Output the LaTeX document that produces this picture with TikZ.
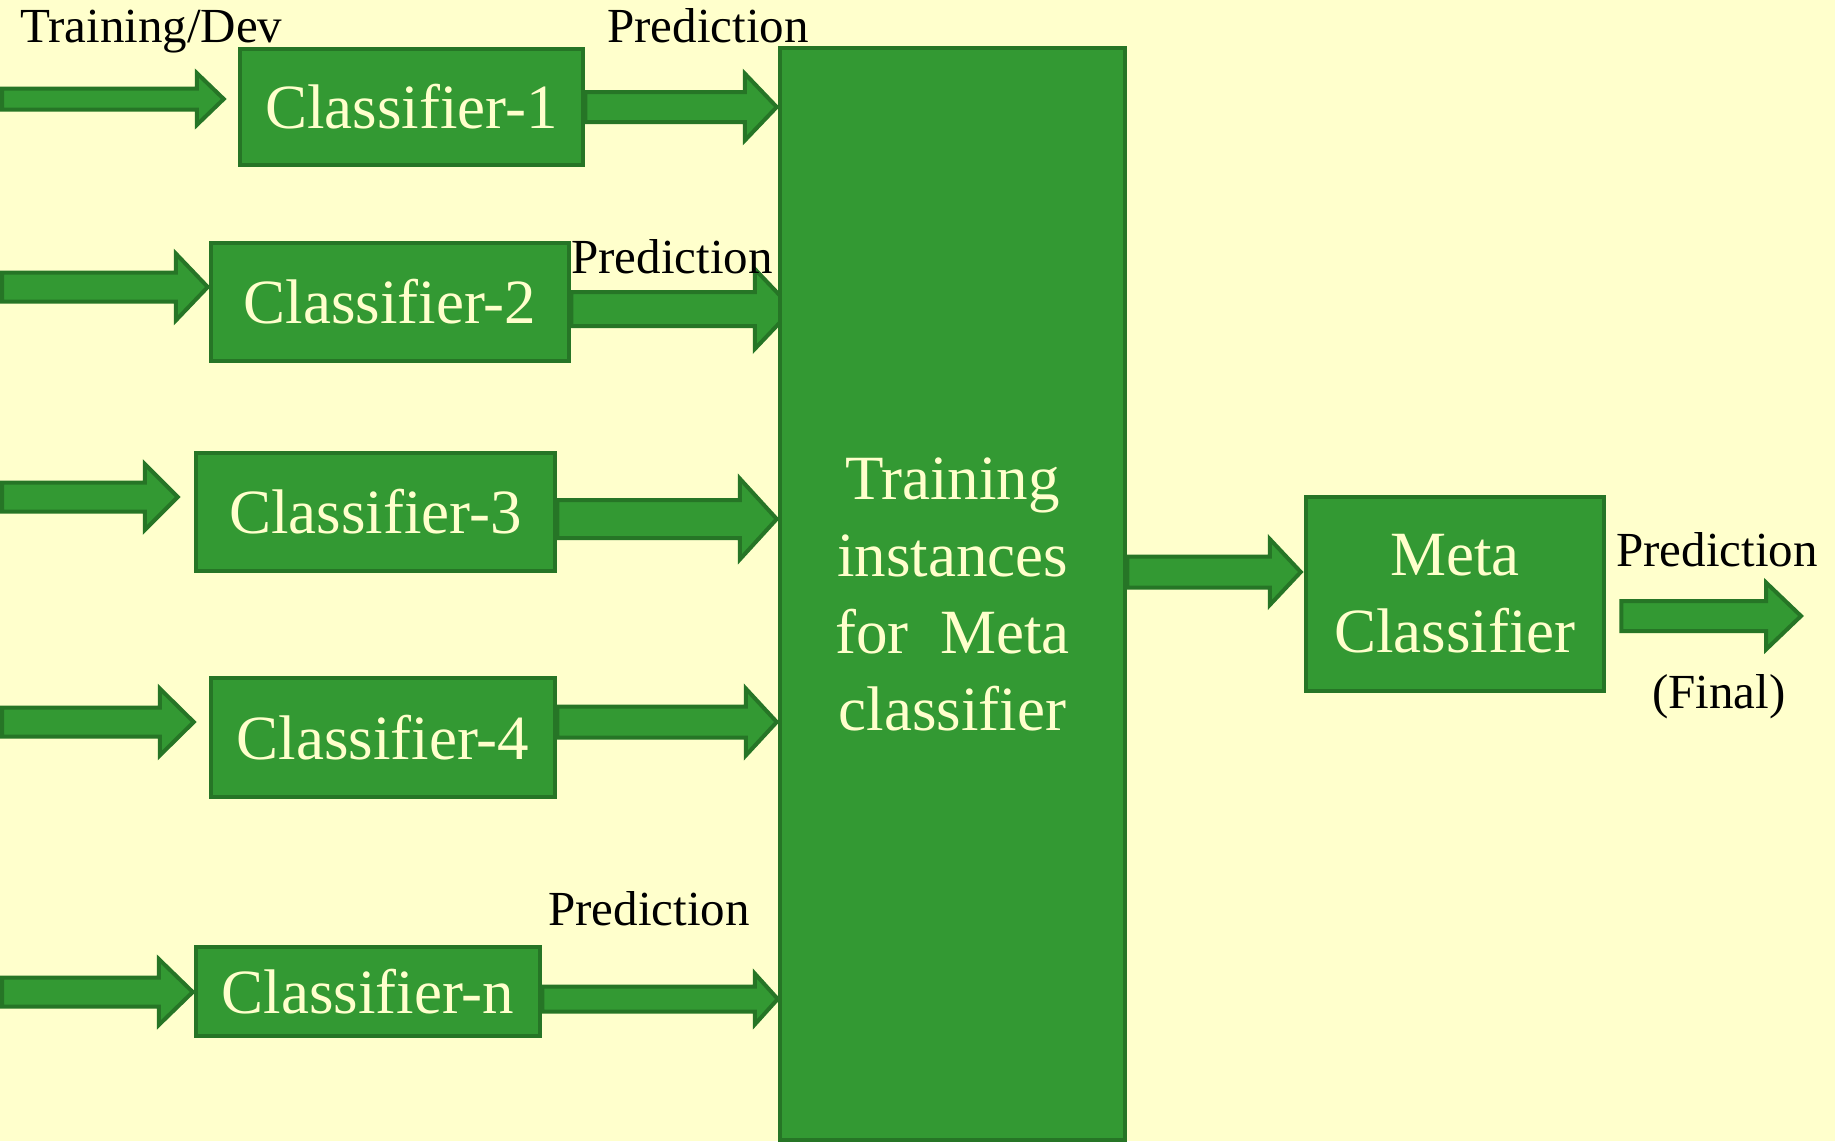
\documentclass[tikz,border=0pt]{standalone}
\usepackage{fontspec}
\setmainfont{Liberation Serif}
\usetikzlibrary{calc}
\definecolor{bgyellow}{HTML}{FFFFCC}
\definecolor{boxgreen}{HTML}{339933}
\definecolor{edgegreen}{HTML}{267526}
\definecolor{cream}{HTML}{FFFFCC}
\pgfdeclarelayer{back}
\pgfdeclarelayer{arrows}
\pgfsetlayers{back,arrows,main}
% #1 tail point (gives x and y), #2 point giving tip x, #3 half shaft, #4 half head, #5 head length
\newcommand\blkarrow[5]{%
  \draw[blockarrow] let \p1=#1, \p2=#2 in
    (\x1,{\y1+#3}) -- ({\x2-#5},{\y1+#3}) -- ({\x2-#5},{\y1+#4}) -- (\x2,\y1)
    -- ({\x2-#5},{\y1-#4}) -- ({\x2-#5},{\y1-#3}) -- (\x1,{\y1-#3}) -- cycle;}
\begin{document}
\begin{tikzpicture}[x=1pt,y=-1pt,
  box/.style={draw=edgegreen, line width=4.5pt, fill=boxgreen, text=cream,
    inner sep=0pt, font=\fontsize{63}{77}\selectfont, align=center},
  blockarrow/.style={draw=edgegreen, line width=4pt, fill=boxgreen, line join=miter},
  lbl/.style={anchor=base west, inner sep=0pt, font=\fontsize{49}{58}\selectfont, text=black}]

\begin{pgfonlayer}{back}
  \fill[bgyellow] (0,0) rectangle (1835,1141);
\end{pgfonlayer}
\useasboundingbox (0,0) rectangle (1835,1141);

% classifier boxes
\node[box, minimum width=343pt, minimum height=116pt] (c1) at (411.5,107) {Classifier-1};
\node[box, minimum width=358pt, minimum height=118pt] (c2) at (390,302) {Classifier-2};
\node[box, minimum width=359pt, minimum height=118pt] (c3) at (375.5,512) {Classifier-3};
\node[box, minimum width=344pt, minimum height=119pt] (c4) at (383,737.5) {Classifier-4};
\node[box, minimum width=344pt, minimum height=89pt] (cn) at (368,991.5) {Classifier-n};

% training instances box
\node[box, minimum width=345pt, minimum height=1092pt] (big) at (952.5,594)
  {Training\\instances\\for\ \ Meta\\classifier};

% meta classifier
\node[box, minimum width=298pt, minimum height=194pt] (meta) at (1455,594) {Meta\\Classifier};

% labels
\node[lbl] (ltd) at (20,42) {Training/Dev};
\node[lbl] (p1) at (607,42) {Prediction};
\node[lbl] (p2) at (571,273) {Prediction};
\node[lbl] (pn) at (548,925) {Prediction};
\node[lbl] (pm) at (1616,566) {Prediction};
\node[lbl] (fin) at (1652,708) {(Final)};

% free ends
\coordinate (in1) at (2,99);
\coordinate (in2) at (2,287);
\coordinate (in3) at (2,497);
\coordinate (in4) at (2,722);
\coordinate (inn) at (2,992);
\coordinate (out) at (1801,616);

\begin{pgfonlayer}{arrows}
  % input arrows
  \blkarrow{(in1)}{($(c1.west)+(-14,0)$)}{10.5pt}{26pt}{27pt}
  \blkarrow{(in2)}{($(c2.west)+(-1,0)$)}{14.5pt}{33.5pt}{32pt}
  \blkarrow{(in3)}{($(c3.west)+(-16,0)$)}{14.5pt}{33pt}{33pt}
  \blkarrow{(in4)}{($(c4.west)+(-15,0)$)}{14.5pt}{33.5pt}{34pt}
  \blkarrow{(inn)}{($(cn.west)+(-1,0)$)}{14.5pt}{33pt}{34pt}
  % prediction arrows
  \blkarrow{(c1.east)}{($(big.west)+(-1,0)$)}{15pt}{33.5pt}{32pt}
  \blkarrow{($(c2.east)+(0,7)$)}{($(big.west)+(15,0)$)}{17pt}{40pt}{38pt}
  \blkarrow{($(c3.east)+(0,7)$)}{($(big.west)+(-1,0)$)}{19pt}{40.5pt}{37pt}
  \blkarrow{($(c4.east)+(0,-15.5)$)}{($(big.west)+(-1,0)$)}{15.5pt}{33.5pt}{31pt}
  \blkarrow{($(cn.east)+(0,7.5)$)}{(big.west)}{12.5pt}{25.5pt}{23pt}
  % to meta classifier
  \blkarrow{($(big.east)+(0,-22)$)}{($(meta.west)+(-3,0)$)}{15.5pt}{33pt}{31pt}
  % final output
  \blkarrow{($(meta.east)+(15,22)$)}{(out)}{15pt}{33.5pt}{35pt}
\end{pgfonlayer}
\end{tikzpicture}
\end{document}
